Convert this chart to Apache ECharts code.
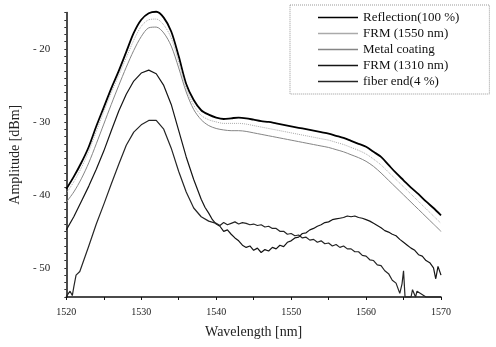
<!DOCTYPE html>
<html>
<head>
<meta charset="utf-8">
<title>Reflection spectra</title>
<script src="https://cdn.jsdelivr.net/npm/echarts@6/dist/echarts.min.js"></script>
<style>
  html, body { margin: 0; padding: 0; background: #fff; }
  #chart { width: 496px; height: 347px; }
</style>
</head>
<body>
<div id="chart"></div>
<script>
// wavelength grid [nm] for the three upper (smooth) traces
var wavelength = [1520, 1521, 1522, 1523, 1524, 1525, 1526, 1527, 1528, 1529,
  1530, 1531, 1532, 1533, 1534, 1535, 1536, 1537, 1538, 1539,
  1540, 1541, 1542, 1543, 1544, 1545, 1546, 1547, 1548, 1549,
  1550, 1551, 1552, 1553, 1554, 1555, 1556, 1557, 1558, 1559,
  1560, 1561, 1562, 1563, 1564, 1565, 1566, 1567, 1568, 1569, 1570];

// amplitudes [dBm]
var reflection = [-39.2, -37.5, -35.6, -33.4, -30.6, -28.0, -25.4, -23.0, -20.4, -17.8,
  -16.0, -15.1, -14.9, -15.7, -17.6, -21.0, -24.8, -27.0, -28.4, -29.0,
  -29.4, -29.6, -29.5, -29.4, -29.5, -29.7, -29.9, -30.0, -30.2, -30.4,
  -30.6, -30.8, -31.0, -31.2, -31.4, -31.6, -31.9, -32.2, -32.6, -33.0,
  -33.4, -34.1, -34.8, -35.9, -37.0, -38.0, -39.0, -39.9, -40.9, -41.8, -42.8];

var frm1550 = [-39.8, -38.2, -36.3, -34.0, -31.3, -28.6, -26.0, -23.6, -21.2, -18.8,
  -16.9, -16.0, -15.9, -16.7, -18.5, -21.8, -25.4, -27.7, -29.1, -29.7,
  -30.0, -30.2, -30.2, -30.2, -30.3, -30.5, -30.7, -30.9, -31.1, -31.3,
  -31.5, -31.7, -31.9, -32.1, -32.3, -32.5, -32.8, -33.1, -33.5, -33.9,
  -34.4, -35.1, -35.9, -36.9, -37.9, -38.9, -39.9, -40.9, -41.9, -42.9, -43.9];

var metalCoating = [-41.0, -39.6, -37.8, -35.6, -33.0, -30.3, -27.6, -25.0, -22.5, -20.2,
  -18.3, -17.1, -17.0, -17.8, -19.6, -22.6, -25.9, -28.3, -29.7, -30.5,
  -30.9, -31.1, -31.2, -31.2, -31.3, -31.5, -31.7, -31.9, -32.1, -32.3,
  -32.5, -32.7, -32.9, -33.1, -33.3, -33.5, -33.8, -34.1, -34.5, -34.9,
  -35.4, -36.1, -37.0, -38.0, -39.0, -40.0, -41.0, -42.0, -43.0, -44.0, -45.0];

// the two lower traces are noisy, so they are read at a finer step
var frm1310Wl = [1520, 1521, 1522, 1523, 1524, 1525, 1526, 1527, 1528, 1529,
  1530, 1531, 1532, 1533, 1534, 1535, 1536, 1537, 1538, 1538.5, 1539, 1539.5,
  1540, 1540.5, 1541, 1541.5, 1542, 1542.5, 1543, 1543.5, 1544, 1544.5,
  1545, 1545.5, 1546, 1546.5, 1547, 1547.5, 1548, 1548.5, 1549, 1549.5,
  1550, 1550.5, 1551, 1551.5, 1552, 1552.5, 1553, 1553.5, 1554, 1554.5,
  1555, 1555.5, 1556, 1556.5, 1557, 1557.5, 1558, 1558.5, 1559, 1559.5,
  1560, 1560.5, 1561, 1561.5, 1562, 1562.5, 1563, 1563.5, 1564, 1564.5,
  1565, 1565.5, 1566, 1566.5, 1567, 1567.5, 1568, 1568.5, 1569, 1569.3, 1569.6, 1570];
var frm1310 = [-44.8, -43.0, -40.9, -38.8, -36.5, -34.0, -31.2, -28.5, -26.2, -24.4,
  -23.3, -22.9, -23.4, -25.0, -27.6, -31.2, -34.8, -37.9, -40.6, -41.7, -42.5, -43.4,
  -44.0, -44.3, -45.0, -44.8, -45.4, -45.9, -46.3, -46.9, -47.2, -47.0,
  -47.6, -47.3, -47.9, -47.5, -47.7, -47.2, -47.4, -46.9, -47.1, -46.5,
  -46.3, -45.9, -45.8, -45.3, -45.2, -44.8, -44.6, -44.3, -44.1, -43.8,
  -43.7, -43.4, -43.3, -43.2, -43.1, -42.9, -43.0, -42.9, -43.1, -43.2,
  -43.4, -43.6, -43.9, -44.2, -44.5, -44.9, -45.1, -45.4, -45.6, -46.1,
  -46.5, -46.9, -47.3, -47.6, -48.2, -48.4, -49.0, -49.3, -50.0, -51.5, -49.8, -51.0];

var fiberEndWl = [1520, 1520.5, 1520.8, 1521, 1521.3, 1521.5, 1521.8, 1522, 1523, 1524,
  1525, 1526, 1527, 1528, 1529, 1530, 1531, 1532, 1533, 1534, 1535, 1536, 1537, 1538, 1539,
  1540, 1540.5, 1541, 1541.5, 1542, 1542.5, 1543, 1543.5, 1544, 1544.5,
  1545, 1545.5, 1546, 1546.5, 1547, 1547.5, 1548, 1548.5, 1549, 1549.5,
  1550, 1550.5, 1551, 1551.5, 1552, 1552.5, 1553, 1553.5, 1554, 1554.5,
  1555, 1555.5, 1556, 1556.5, 1557, 1557.5, 1558, 1558.5, 1559, 1559.5,
  1560, 1560.5, 1561, 1561.5, 1562, 1562.5, 1563, 1563.5, 1564, 1564.5, 1564.8,
  1565, 1565.2, 1566, 1566.2, 1566.6, 1566.8, 1568, 1570];
var fiberEnd = [-53.9, -53.2, -53.8, -52.6, -51.0, -50.8, -50.5, -50.3, -47.0, -44.0,
  -41.3, -38.5, -35.8, -33.2, -31.4, -30.4, -29.8, -29.8, -31.0, -33.6, -36.8, -39.6, -41.8, -43.0, -43.6,
  -43.9, -44.2, -43.8, -44.1, -43.9, -43.7, -44.0, -43.8, -43.9, -44.1,
  -44.0, -44.2, -44.1, -44.4, -44.3, -44.6, -44.6, -45.0, -45.0, -45.4,
  -45.3, -45.6, -45.5, -45.9, -45.8, -46.2, -46.1, -46.5, -46.3, -46.7,
  -46.6, -47.0, -46.8, -47.2, -47.0, -47.4, -47.4, -47.8, -47.8, -48.3,
  -48.4, -48.9, -49.0, -49.6, -49.7, -50.4, -50.8, -51.7, -52.1, -53.5, -52.2,
  -50.4, -54.0, -54.0, -53.0, -54.0, -53.2, -54.0, -54.0];

var seriesNames = ['Reflection(100 %)', 'FRM (1550 nm)', 'Metal coating', 'FRM (1310 nm)', 'fiber end(4 %)'];
var yTicksShown = [-20, -30, -40, -50];

var serif = '"Liberation Serif", "DejaVu Serif", serif';

function pairs(xs, ys) {
  var out = [];
  for (var i = 0; i < xs.length; i++) out.push([xs[i], ys[i]]);
  return out;
}

function line(name, data, color, width, type, smooth) {
  return {
    name: name,
    type: 'line',
    data: data,
    symbol: 'none',
    smooth: smooth || false,
    clip: false,
    lineStyle: { color: color, width: width, type: type || 'solid' },
    itemStyle: { color: color },
    animation: false
  };
}

var chart = echarts.init(document.getElementById('chart'));
chart.setOption({
  backgroundColor: '#fff',
  animation: false,
  grid: { left: 64, right: 55, top: 12.5, bottom: 50 },
  legend: {
    orient: 'vertical',
    left: 290,
    top: 5,
    padding: [6, 30, 6, 28],
    itemGap: 3,
    itemWidth: 40,
    itemHeight: 1.6,
    icon: 'rect',
    borderColor: '#999',
    borderWidth: 1,
    borderType: 'dotted',
    data: seriesNames,
    textStyle: { fontFamily: serif, fontSize: 13, color: '#111', lineHeight: 13 }
  },
  xAxis: {
    type: 'value',
    min: 1520,
    max: 1570,
    interval: 10,
    axisLine: { lineStyle: { color: '#111', width: 1.5 } },
    axisTick: { length: 3, lineStyle: { color: '#111' } },
    minorTick: { show: true, splitNumber: 2, length: 3, lineStyle: { color: '#111' } },
    splitLine: { show: false },
    axisLabel: {
      fontFamily: serif, fontSize: 10, color: '#222', margin: 10,
      formatter: function (v) { return String(v); }
    },
    name: 'Wavelength [nm]',
    nameLocation: 'middle',
    nameGap: 28,
    nameTextStyle: { fontFamily: serif, fontSize: 14, color: '#222' }
  },
  yAxis: {
    type: 'value',
    min: -54,
    max: -15,
    interval: 1,
    axisLine: { show: true, lineStyle: { color: '#111', width: 1.5 } },
    axisTick: { show: true, length: 2, lineStyle: { color: '#333' } },
    splitLine: { show: false },
    axisLabel: {
      fontFamily: serif, fontSize: 11, color: '#222', margin: 16,
      formatter: function (v) {
        return yTicksShown.indexOf(v) > -1 ? '- ' + Math.abs(v) : '';
      }
    },
    name: 'Amplitude [dBm]',
    nameLocation: 'middle',
    nameGap: 37,
    nameTextStyle: { fontFamily: serif, fontSize: 14, color: '#222' }
  },
  series: [
    line(seriesNames[0], pairs(wavelength, reflection), '#000', 1.8, 'solid', 0.3),
    line(seriesNames[1], pairs(wavelength, frm1550), '#aaaaaa', 1, 'dotted', 0.3),
    line(seriesNames[2], pairs(wavelength, metalCoating), '#858585', 1, 'solid', 0.3),
    line(seriesNames[3], pairs(frm1310Wl, frm1310), '#151515', 1.2),
    line(seriesNames[4], pairs(fiberEndWl, fiberEnd), '#252525', 1.2)
  ]
});
</script>
</body>
</html>
